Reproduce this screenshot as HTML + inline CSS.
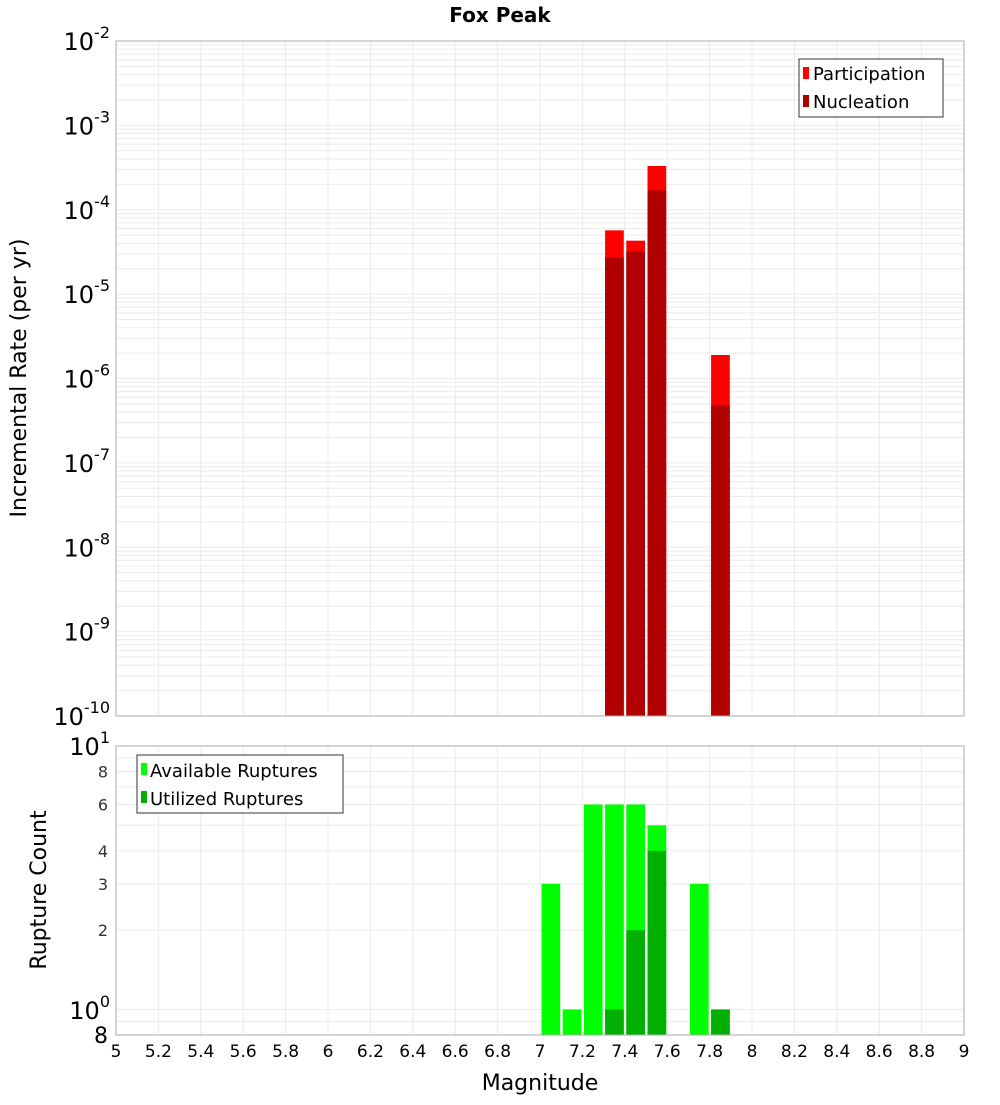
<!DOCTYPE html>
<html><head><meta charset="utf-8"><style>
body{margin:0;background:#fff;font-family:"Liberation Sans","DejaVu Sans",sans-serif}
svg text{font-family:"DejaVu Sans","Liberation Sans",sans-serif}
</style></head><body>
<svg id="chart" width="1000" height="1100" xmlns="http://www.w3.org/2000/svg">
<text x="500" y="22" text-anchor="middle" font-size="20" font-weight="bold">Fox Peak</text>
<g id="grid"></g><g id="bars"></g><g id="axes"></g>
<text transform="translate(26,378) rotate(-90)" text-anchor="middle" font-size="22">Incremental Rate (per yr)</text>
<text transform="translate(46,890) rotate(-90)" text-anchor="middle" font-size="22">Rupture Count</text>
<text x="540" y="1090" text-anchor="middle" font-size="22">Magnitude</text>
<g>
<rect x="799" y="59" width="144" height="58" fill="#fff" stroke="#333"/>
<rect x="803" y="67" width="6" height="12" fill="#ff0000"/><text x="813" y="80" font-size="18">Participation</text>
<rect x="803" y="95" width="6" height="12" fill="#b00000"/><text x="813" y="108" font-size="18">Nucleation</text>
</g>
<g>
<rect x="137" y="755" width="206" height="58" fill="#fff" stroke="#333"/>
<rect x="141" y="763" width="6" height="12" fill="#00ff00"/><text x="150" y="777" font-size="18">Available Ruptures</text>
<rect x="141" y="791" width="6" height="12" fill="#00b000"/><text x="150" y="805" font-size="18">Utilized Ruptures</text>
</g>
</svg>
<script>
const topBins=[7.3,7.4,7.5,7.8];
const participation=[5.7e-5,4.3e-5,3.3e-4,1.9e-6];
const nucleation=[2.7e-5,3.2e-5,1.7e-4,4.8e-7];
const botBins=[7.0,7.1,7.2,7.3,7.4,7.5,7.7,7.8];
const available=[3,1,6,6,6,5,3,1];
const utilizedBins=[7.3,7.4,7.5,7.8];
const utilized=[1,2,4,1];
const xTicks=[5,5.2,5.4,5.6,5.8,6,6.2,6.4,6.6,6.8,7,7.2,7.4,7.6,7.8,8,8.2,8.4,8.6,8.8,9];
const topExps=[-2,-3,-4,-5,-6,-7,-8,-9,-10];
const botTicks=[2,3,4,6,8];

const NS='http://www.w3.org/2000/svg';
const X0=116,X1=964,T0=41,T1=716,B0=746,B1=1035;
const x=m=>X0+(m-5)/4*(X1-X0);
const yT=v=>T0+(-2-Math.log10(v))/8*(T1-T0);
const yB=v=>B0+(Math.log10(10)-Math.log10(v))/Math.log10(10/0.8)*(B1-B0);
function mk(parent,tag,attrs,name,text){const e=document.createElementNS(NS,tag);for(const k in attrs)e.setAttribute(k,attrs[k]);


if(text!==undefined)e.textContent=text;document.getElementById(parent).appendChild(e);return e;}
const g='#ebebeb';
// grid
xTicks.forEach(t=>{mk('grid','line',{x1:x(t),x2:x(t),y1:T0,y2:T1,stroke:g},'x-grid-top');mk('grid','line',{x1:x(t),x2:x(t),y1:B0,y2:B1,stroke:g},'x-grid-bottom');});
for(let e=-10;e<-2;e++)for(let k=1;k<10;k++){const yy=yT(k*Math.pow(10,e));mk('grid','line',{x1:X0,x2:X1,y1:yy,y2:yy,stroke:g},'y-grid-top');}
[0.8,0.9,1,2,3,4,5,6,7,8,9].forEach(v=>{const yy=yB(v);mk('grid','line',{x1:X0,x2:X1,y1:yy,y2:yy,stroke:g},'y-grid-bottom');});
// bars
const bw=(x(5.1)-x(5))-2.5;
topBins.forEach((m,i)=>{
 mk('bars','rect',{x:x(m)+1.5,width:bw,y:yT(participation[i]),height:T1-yT(participation[i]),fill:'#ff0000'},'participation-bar');
 mk('bars','rect',{x:x(m)+1.5,width:bw,y:yT(nucleation[i]),height:T1-yT(nucleation[i]),fill:'#b00000'},'nucleation-bar');});
botBins.forEach((m,i)=>mk('bars','rect',{x:x(m)+1.5,width:bw,y:yB(available[i]),height:B1-yB(available[i]),fill:'#00ff00'},'available-bar'));
utilizedBins.forEach((m,i)=>mk('bars','rect',{x:x(m)+1.5,width:bw,y:yB(utilized[i]),height:B1-yB(utilized[i]),fill:'#00b000'},'utilized-bar'));
// frames
mk('axes','rect',{x:X0,y:T0,width:X1-X0,height:T1-T0,fill:'none',stroke:'#aaa'},'top-plot-frame');
mk('axes','rect',{x:X0,y:B0,width:X1-X0,height:B1-B0,fill:'none',stroke:'#aaa'},'bottom-plot-frame');
xTicks.forEach(t=>mk('axes','text',{x:x(t),y:1057,'text-anchor':'middle','font-size':17},'x-tick-label',String(t)));
topExps.forEach(e=>{const yy=yT(Math.pow(10,e));const t=mk('axes','text',{x:110,y:yy+9,'text-anchor':'end','font-size':24},'y-tick-label-top');
 t.innerHTML='10<tspan dy="-12" font-size="16">'+e+'</tspan>';});
botTicks.forEach(v=>mk('axes','text',{x:108,y:yB(v)+6,'text-anchor':'end','font-size':16,fill:'#333'},'y-tick-label-bottom',String(v)));
let t1=mk('axes','text',{x:110,y:755,'text-anchor':'end','font-size':24},'y-tick-label-bottom');t1.innerHTML='10<tspan dy="-12" font-size="16">1</tspan>';
let t0=mk('axes','text',{x:110,y:1019,'text-anchor':'end','font-size':24},'y-tick-label-bottom');t0.innerHTML='10<tspan dy="-12" font-size="16">0</tspan>';
mk('axes','text',{x:108,y:1043,'text-anchor':'end','font-size':22},'y-tick-label-bottom','8');
</script>
</body></html>
